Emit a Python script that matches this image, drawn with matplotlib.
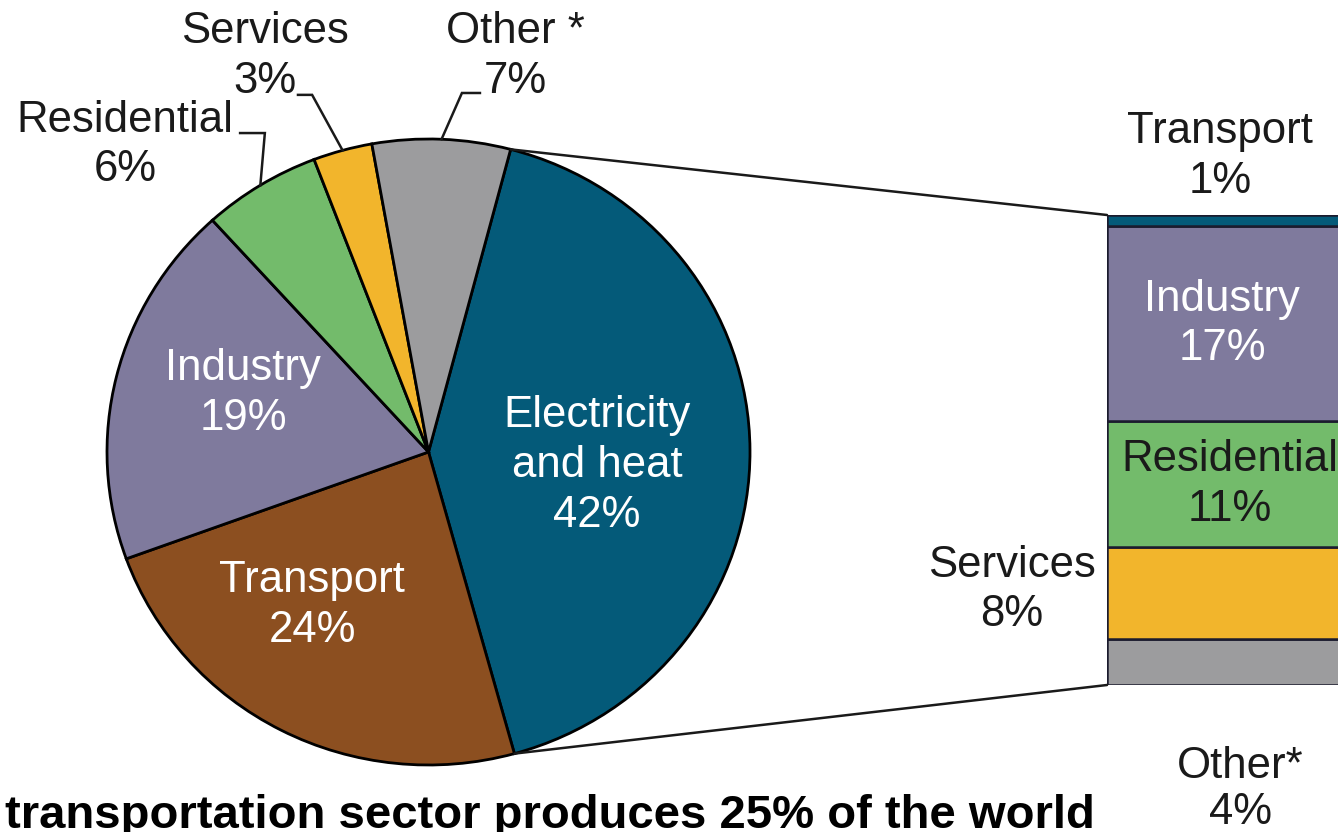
import matplotlib
matplotlib.use("Agg")
import matplotlib.pyplot as plt
import numpy as np
from matplotlib.patches import ConnectionPatch

# ---------------- data ----------------
pie_labels = ["Electricity\nand heat", "Transport", "Industry", "Residential", "Services", "Other *"]
pie_values = [42, 24, 19, 6, 3, 7]
pie_colors = ["#045a79", "#8c4f20", "#7f7a9d", "#73bb6b", "#f2b52c", "#9c9c9e"]

bar_labels = ["Other*", "Services", "Residential", "Industry", "Transport"]
bar_values = [4, 8, 11, 17, 1]
bar_colors = ["#9c9c9e", "#f2b52c", "#73bb6b", "#7f7a9d", "#045a79"]

footer = "transportation sector produces 25% of the world"

FONT = ["Liberation Sans", "DejaVu Sans"]
FS = 31.5
LS = 1.27

W, H = 1338, 832
fig = plt.figure(figsize=(W / 100, H / 100), dpi=100)
fig.patch.set_facecolor("white")

def px_axes(l, t, r, b):
    return fig.add_axes([l / W, 1 - b / H, (r - l) / W, (b - t) / H])

# ---------------- pie ----------------
ax = px_axes(107, 139, 750, 765)
start = 90 - 14.8
wedges, _ = ax.pie(pie_values, colors=pie_colors, startangle=start, counterclock=False,
                   wedgeprops=dict(edgecolor="black", linewidth=2.0))
ax.set_aspect("auto")
ax.set_xlim(-1, 1)
ax.set_ylim(-1, 1)
ax.axis("off")

def edge_pt(w, frac=0.5, r=1.0):
    a = np.deg2rad(w.theta1 + (w.theta2 - w.theta1) * frac)
    return r * np.cos(a), r * np.sin(a)

# inside labels
inside = {0: (0.524, -0.043), 1: (-0.362, -0.491), 2: (-0.577, 0.187)}
for i, (x, y) in inside.items():
    ax.text(x, y, f"{pie_labels[i]}\n{pie_values[i]}%", ha="center", va="center",
            color="white", fontsize=FS, family=FONT, linespacing=LS)

# outside labels with leader lines
outside = {
    3: ((-0.944, 0.981), [(-0.586, 1.019), (-0.509, 1.019)]),
    4: ((-0.509, 1.264), [(-0.406, 1.141), (-0.362, 1.141)]),
    5: ((0.269, 1.264), [(0.160, 1.147), (0.104, 1.147)]),
}
for i, ((x, y), pts) in outside.items():
    ax.text(x, y, f"{pie_labels[i]}\n{pie_values[i]}%", ha="center", va="center",
            color="#1a1a1a", fontsize=FS, family=FONT, linespacing=LS, clip_on=False)
    ex, ey = edge_pt(wedges[i])
    xs = [p[0] for p in pts] + [ex]
    ys = [p[1] for p in pts] + [ey]
    ax.plot(xs, ys, color="#1a1a1a", lw=1.8, clip_on=False, solid_joinstyle="miter")

# ---------------- stacked bar ----------------
bx = px_axes(1107, 215, 1345, 685)
bottom = 0
mids = []
for v, c in zip(bar_values, bar_colors):
    bx.bar(0.5, v, width=1.0, bottom=bottom, color=c, edgecolor="#1b1b2e", linewidth=1.8)
    mids.append(bottom + v / 2)
    bottom += v
total = bottom
bx.set_xlim(0, 1)
bx.set_ylim(0, total)
bx.axis("off")

# bar labels
bx.text(0.517, mids[2], f"{bar_labels[2]}\n{bar_values[2]}%", ha="center", va="center",
        color="#1a1a1a", fontsize=FS, family=FONT, linespacing=LS, clip_on=False)
bx.text(0.483, mids[3], f"{bar_labels[3]}\n{bar_values[3]}%", ha="center", va="center",
        color="white", fontsize=FS, family=FONT, linespacing=LS, clip_on=False)
bx.text(0.475, total + 5.1, f"{bar_labels[4]}\n{bar_values[4]}%", ha="center", va="center",
        color="#1a1a1a", fontsize=FS, family=FONT, linespacing=LS, clip_on=False)
bx.text(-0.40, mids[1] + 0.3, f"{bar_labels[1]}\n{bar_values[1]}%", ha="center", va="center",
        color="#1a1a1a", fontsize=FS, family=FONT, linespacing=LS, clip_on=False)
bx.text(0.56, -9.1, f"{bar_labels[0]}\n{bar_values[0]}%", ha="center", va="center",
        color="#1a1a1a", fontsize=FS, family=FONT, linespacing=1.15, clip_on=False)

# connector lines from Electricity wedge to the bar
w0 = wedges[0]
a_top = np.deg2rad(w0.theta2)
a_bot = np.deg2rad(w0.theta1)
for a, yb in [(a_top, total), (a_bot, 0)]:
    con = ConnectionPatch(xyA=(np.cos(a), np.sin(a)), coordsA=ax.transData,
                          xyB=(0, yb), coordsB=bx.transData,
                          color="#1a1a1a", lw=1.8)
    fig.add_artist(con)

# footer
fig.text(5 / W, 4 / H, footer, ha="left", va="baseline", fontsize=34,
         fontweight="bold", family=FONT, color="black")

fig.savefig("out.png", dpi=100, facecolor="white")
